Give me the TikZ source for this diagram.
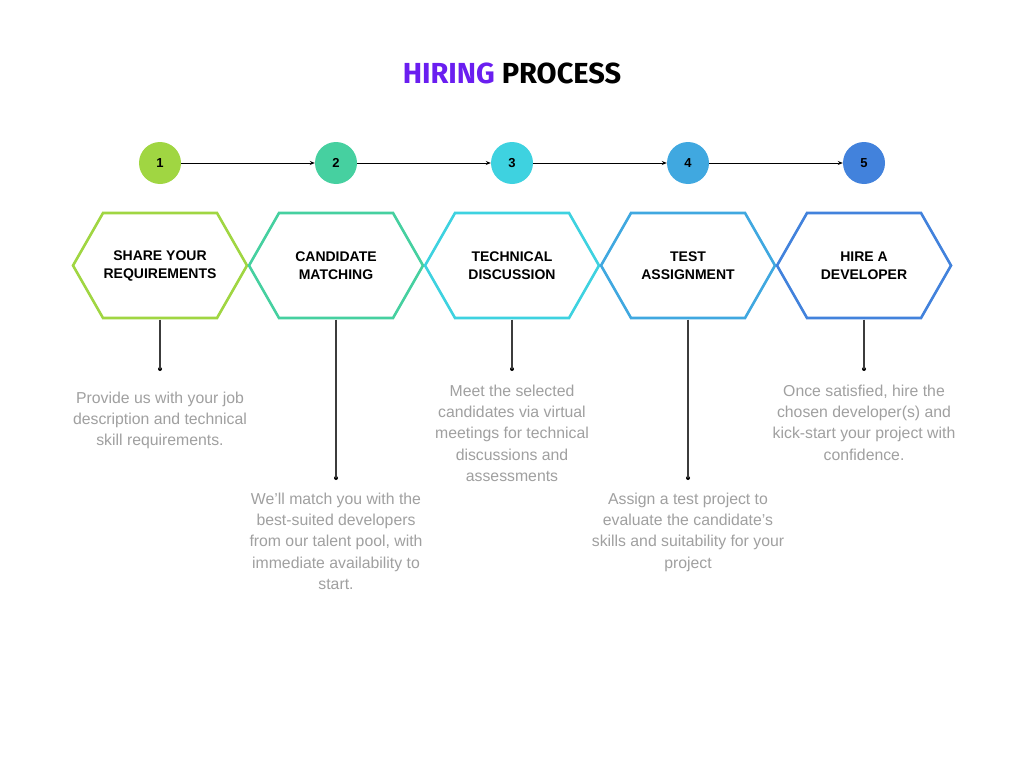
\documentclass[tikz,border=0pt]{standalone}
\usepackage{fontspec}
\setmainfont{Liberation Sans}
\newfontfamily\titlefont{Fira Sans}
\usetikzlibrary{arrows.meta}
\definecolor{cA}{RGB}{160,214,66}
\definecolor{cB}{RGB}{70,208,160}
\definecolor{cC}{RGB}{62,210,224}
\definecolor{cD}{RGB}{64,168,224}
\definecolor{cE}{RGB}{66,130,220}
\definecolor{titlepurple}{RGB}{106,30,240}
\definecolor{descgray}{RGB}{160,160,160}
\definecolor{linegray}{RGB}{60,60,60}
\tikzset{
  numcircle/.style={circle, minimum size=42pt, inner sep=0pt, font=\fontsize{13}{13}\selectfont\bfseries},
  hexlabel/.style={align=center, inner sep=0pt, font=\fontsize{14}{18}\selectfont\bfseries},
  hexline/.style={line width=2.6pt, line join=miter},
  desc/.style={align=center, inner sep=0pt, anchor=base, text=descgray, font=\fontsize{15.8}{21.4}\selectfont},
  flowarrow/.style={line width=0.9pt, -{Stealth[length=5pt,width=4pt]}},
  stem/.style={line width=1.3pt, draw=linegray},
  stemdot/.style={circle, fill=black, minimum size=4pt, inner sep=0pt}
}
\begin{document}
\begin{tikzpicture}[x=1pt,y=-1pt]
\useasboundingbox[fill=white] (0,0) rectangle (1024,768);
% title
\node[font=\titlefont\fontsize{29}{29}\selectfont\bfseries] (title) at (512,73) {\textcolor{titlepurple}{HIRING} PROCESS};
% number circles
\foreach \i/\x/\c in {1/160/cA,2/336/cB,3/512/cC,4/688/cD,5/864/cE}{
  \node[numcircle, fill=\c] (n\i) at (\x,163) {\i};
}
\foreach \a/\b in {1/2,2/3,3/4,4/5}{
  \draw[flowarrow] (n\a) -- (n\b);
}
% hexagons
\foreach \i/\x/\c/\t in {1/160/cA/{SHARE YOUR\\REQUIREMENTS},2/336/cB/{CANDIDATE\\MATCHING},3/512/cC/{TECHNICAL\\DISCUSSION},4/688/cD/{TEST\\ASSIGNMENT},5/864/cE/{HIRE A\\DEVELOPER}}{
  \draw[hexline, draw=\c] (\x-87,265.5) -- (\x-57,213) -- (\x+57,213) -- (\x+87,265.5) -- (\x+57,318) -- (\x-57,318) -- cycle;
  \node[hexlabel] (h\i) at (\x,265.5) {\t};
  \coordinate (hb\i) at (\x,319.5);
}
% stems and dots
\foreach \i/\x/\y in {1/160/369,2/336/478,3/512/369,4/688/478,5/864/369}{
  \node[stemdot] (d\i) at (\x,\y) {};
  \draw[stem] (hb\i) -- (d\i.center);
}
% descriptions (anchor base = baseline of the last line)
\node[desc] (t1) at (160,445.8) {Provide us with your job\\description and technical\\skill requirements.};
\node[desc] (t2) at (336,589.6) {We'll match you with the\\best-suited developers\\from our talent pool, with\\immediate availability to\\start.};
\node[desc] (t3) at (512,481.6) {Meet the selected\\candidates via virtual\\meetings for technical\\discussions and\\assessments};
\node[desc] (t4) at (688,568.2) {Assign a test project to\\evaluate the candidate's\\skills and suitability for your\\project};
\node[desc] (t5) at (864,460.2) {Once satisfied, hire the\\chosen developer(s) and\\kick-start your project with\\confidence.};
\end{tikzpicture}
\end{document}
